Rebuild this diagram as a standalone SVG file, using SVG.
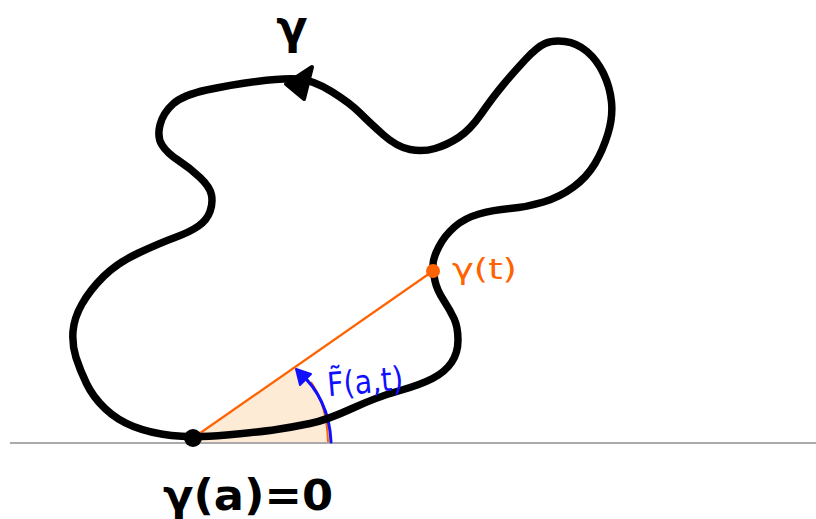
<svg xmlns="http://www.w3.org/2000/svg" width="816" height="519" viewBox="0 0 816 519">
<style>
.curve{fill:none;stroke:#000;stroke-width:7.5;stroke-linecap:round;stroke-linejoin:round}
.lbl{font-family:"DejaVu Sans","Liberation Sans",sans-serif}
</style>
<rect width="816" height="519" fill="#fff"/>
<g id="shading">
<path d="M193,438 L297,366 Q326,392 331,443 L193,443 Z" fill="#fdebd6"/>
</g>
<g id="axis">
<line x1="10" y1="443" x2="816" y2="443" stroke="#aaaaaa" stroke-width="2"/>
</g>
<g id="connectors">
<line x1="193" y1="438" x2="433" y2="271" stroke="#ff6200" stroke-width="2.2"/>
<path d="M328,442 Q327,405 311,382" fill="none" stroke="#ff6200" stroke-width="2"/>
<path d="M331,442 Q329,398 298,371" fill="none" stroke="#1010ff" stroke-width="3" stroke-linecap="round"/>
<polygon points="296,369 300,385 311,374" fill="#1010ff" stroke="#1010ff" stroke-width="2" stroke-linejoin="round"/>
</g>
<g id="gamma-curve">
<path class="curve" d="M226.5,435 Q193,438 171.5,435.5 Q150,433 133.5,426.5 Q117,420 105,408.5 Q93,397 86.5,383.5 Q80,370 76,357.5 Q72,345 73,331.5 Q74,318 82,304 Q90,290 103.5,276.5 Q117,263 138.5,253 Q160,243 175,237.5 Q190,232 198.5,226 Q207,220 210,211.5 Q213,203 211.5,195 Q210,187 200,177.5 Q190,168 178.5,160.5 Q167,153 162,145 Q157,137 160,125 Q163,113 173,104 Q183,95 206.5,90 Q230,85 256.5,81.5 Q283,78 298,79 Q313,80 331.5,91.5 Q350,103 360,113 Q370,123 383.5,135 Q397,147 410,149.5 Q423,152 435,148.5 Q447,145 458.5,137.5 Q470,130 481.5,113.5 Q493,97 503,85 Q513,73 525,60 Q537,47 545,43.5 Q553,40 565,41.5 Q577,43 587,51.5 Q597,60 603.5,73.5 Q610,87 611.5,102 Q613,117 608,133.5 Q603,150 595,163.5 Q587,177 573.5,187 Q560,197 543.5,202 Q527,207 510,208.5 Q493,210 479,214 Q465,218 455,226.5 Q445,235 439,246.5 Q433,258 433,265 Q433,272 435,281 Q437,290 443.5,300 Q450,310 454,318.5 Q458,327 458,340 Q458,353 451.5,362.5 Q445,372 432.5,378.5 Q420,385 398.5,391 Q377,397 352,408.5 Q327,420 310,423.5 Q293,427 276.5,429.5 Q260,432 226.5,435 Z"/>
<polygon points="286,84 312,67 304,99" fill="#000" stroke="#000" stroke-width="4" stroke-linejoin="round"/>
</g>
<g id="point-a">
<circle cx="193" cy="438" r="9" fill="#000"/>
</g>
<g id="point-t">
<circle cx="433" cy="271" r="7" fill="#ff6200"/>
</g>
<g id="labels">
<text class="lbl" x="292" y="43" font-size="46" font-weight="bold" text-anchor="middle">γ</text>
<text class="lbl" x="163" y="510" font-size="42" font-weight="bold" textLength="170" lengthAdjust="spacingAndGlyphs">γ(a)=0</text>
<text class="lbl" x="452" y="279" font-size="28" fill="#ff6200" textLength="65" lengthAdjust="spacingAndGlyphs">γ(t)</text>
<text class="lbl" x="327" y="393" font-size="33" fill="#1010ff" textLength="76" lengthAdjust="spacingAndGlyphs" transform="rotate(-5 365 380)">F̃(a,t)</text>
</g>
</svg>
